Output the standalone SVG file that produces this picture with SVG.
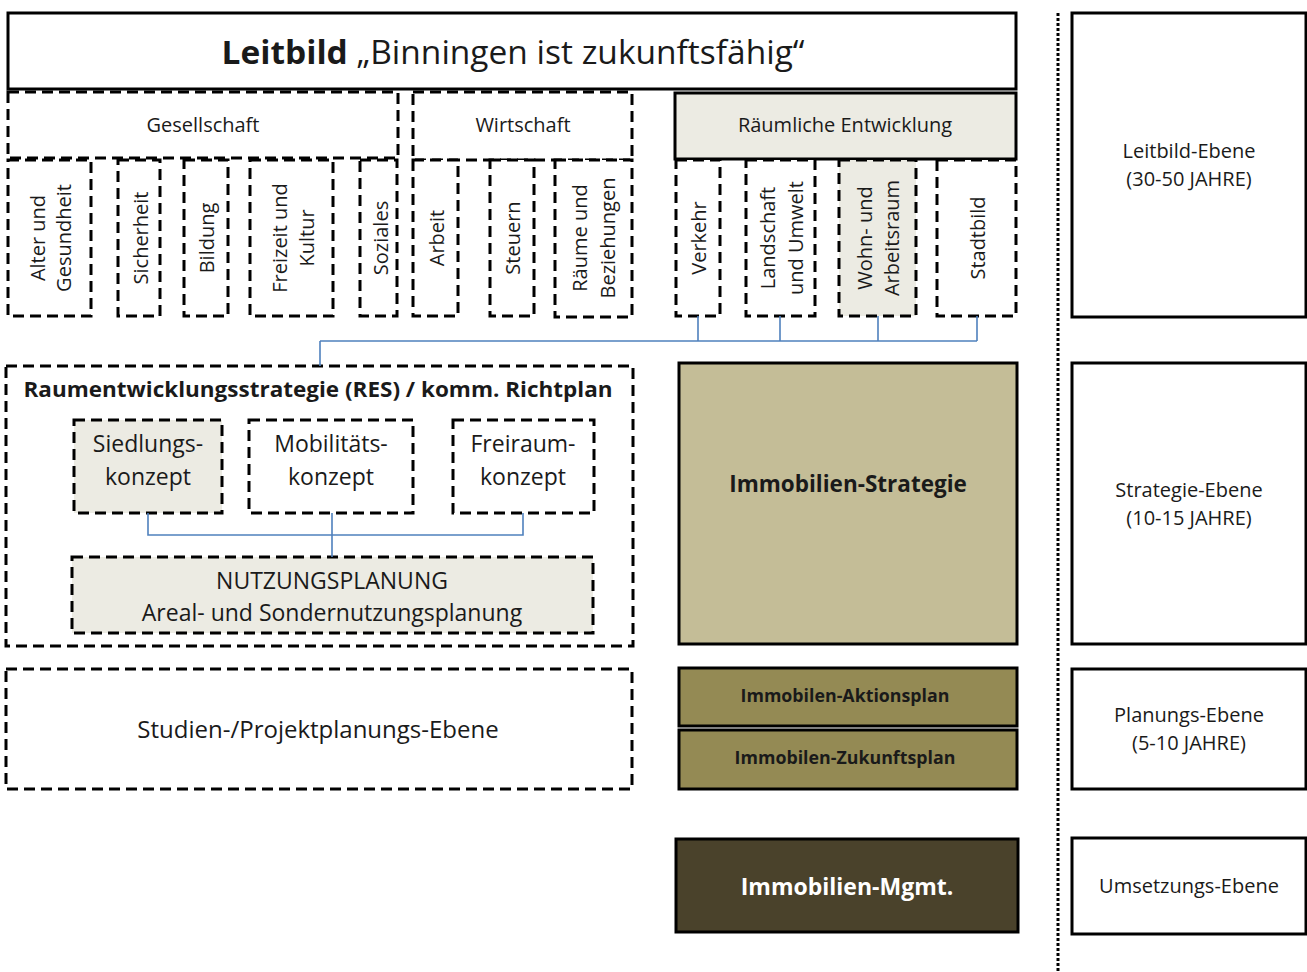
<svg xmlns="http://www.w3.org/2000/svg" width="1307" height="972" viewBox="0 0 1307 972">
<style>
text{font-family:"Open Sans","Liberation Sans",sans-serif;fill:#1a1a1a;text-anchor:middle}
.solid{fill:#fff;stroke:#000;stroke-width:3}
.dash{fill:#fff;stroke:#000;stroke-width:3;stroke-dasharray:11 6}
.light{fill:#ecebe3}
.v{font-size:20px;dominant-baseline:central}
.h19{font-size:20px}
.h22{font-size:23px}
.conn{fill:none;stroke:#4f81bd;stroke-width:1.6}
</style>
<rect width="1307" height="972" fill="#fff"/>

<g id="leitbild">
<rect class="solid" x="8" y="13" width="1008" height="76"/>
<text x="513" y="64" font-size="33" textLength="583" lengthAdjust="spacingAndGlyphs"><tspan font-weight="bold">Leitbild</tspan> „Binningen ist zukunftsfähig“</text>
</g>

<g id="gesellschaft">
<rect class="dash" x="8" y="92" width="390" height="66"/>
<text class="h19" x="203" y="132">Gesellschaft</text>
</g>
<g id="wirtschaft">
<rect class="dash" x="413" y="92" width="219" height="68"/>
<text class="h19" x="523" y="132">Wirtschaft</text>
</g>
<g id="raeumliche">
<rect class="solid light" x="675" y="93" width="341" height="66"/>
<text class="h19" x="845" y="132">Räumliche Entwicklung</text>
</g>

<g id="alter"><rect class="dash" x="8" y="160" width="83" height="156"/>
<g transform="translate(50,238) rotate(-90)"><text class="v" x="0" y="-13">Alter und</text><text class="v" x="0" y="13">Gesundheit</text></g></g>
<g id="sicherheit"><rect class="dash" x="118" y="160" width="42" height="156"/>
<g transform="translate(140,238) rotate(-90)"><text class="v" x="0" y="0">Sicherheit</text></g></g>
<g id="bildung"><rect class="dash" x="184" y="160" width="44" height="156"/>
<g transform="translate(206,238) rotate(-90)"><text class="v" x="0" y="0">Bildung</text></g></g>
<g id="freizeit"><rect class="dash" x="250" y="160" width="83" height="156"/>
<g transform="translate(292,238) rotate(-90)"><text class="v" x="0" y="-13">Freizeit und</text><text class="v" x="0" y="14">Kultur</text></g></g>
<g id="soziales"><rect class="dash" x="360" y="160" width="37" height="156"/>
<g transform="translate(380,238) rotate(-90)"><text class="v" x="0" y="0">Soziales</text></g></g>
<g id="arbeit"><rect class="dash" x="413" y="160" width="45" height="156"/>
<g transform="translate(436,238) rotate(-90)"><text class="v" x="0" y="0">Arbeit</text></g></g>
<g id="steuern"><rect class="dash" x="490" y="160" width="44" height="156"/>
<g transform="translate(512,238) rotate(-90)"><text class="v" x="0" y="0">Steuern</text></g></g>
<g id="raeume"><rect class="dash" x="555" y="160" width="77" height="157"/>
<g transform="translate(593,238) rotate(-90)"><text class="v" x="0" y="-14">Räume und</text><text class="v" x="0" y="14">Beziehungen</text></g></g>
<g id="verkehr"><rect class="dash" x="676" y="160" width="44" height="156"/>
<g transform="translate(698,238) rotate(-90)"><text class="v" x="0" y="0">Verkehr</text></g></g>
<g id="landschaft"><rect class="dash" x="746" y="160" width="69" height="156"/>
<g transform="translate(781,238) rotate(-90)"><text class="v" x="0" y="-14">Landschaft</text><text class="v" x="0" y="14">und Umwelt</text></g></g>
<g id="wohn"><rect class="dash light" x="839" y="160" width="77" height="156"/>
<g transform="translate(877,238) rotate(-90)"><text class="v" x="0" y="-13">Wohn- und</text><text class="v" x="0" y="14">Arbeitsraum</text></g></g>
<g id="stadtbild"><rect class="dash" x="937" y="160" width="79" height="156"/>
<g transform="translate(977,238) rotate(-90)"><text class="v" x="0" y="0">Stadtbild</text></g></g>

<g id="res">
<rect class="dash" x="6" y="366" width="627" height="280"/>
<text x="318" y="397" font-size="21" font-weight="bold" textLength="589" lengthAdjust="spacingAndGlyphs">Raumentwicklungsstrategie (RES) / komm. Richtplan</text>
</g>
<g id="siedlung"><rect class="dash light" x="74" y="420" width="148" height="93"/>
<text class="h22" x="148" y="452">Siedlungs-</text><text class="h22" x="148" y="485">konzept</text></g>
<g id="mobilitaet"><rect class="dash" x="249" y="420" width="164" height="93"/>
<text class="h22" x="331" y="452">Mobilitäts-</text><text class="h22" x="331" y="485">konzept</text></g>
<g id="freiraum"><rect class="dash" x="453" y="420" width="141" height="93"/>
<text class="h22" x="523" y="452">Freiraum-</text><text class="h22" x="523" y="485">konzept</text></g>
<g id="nutzung"><rect class="dash light" x="72" y="557" width="521" height="76"/>
<text class="h22" x="332" y="589">NUTZUNGSPLANUNG</text><text class="h22" x="332" y="621">Areal- und Sondernutzungsplanung</text></g>

<g id="studien"><rect class="dash" x="6" y="669" width="626" height="120"/>
<text x="318" y="738" font-size="24">Studien-/Projektplanungs-Ebene</text></g>

<g id="strategie"><rect class="solid" style="fill:#c4bd97" x="679" y="363" width="338" height="281"/>
<text x="848" y="492" font-size="22.5" font-weight="bold">Immobilien-Strategie</text></g>
<g id="aktionsplan"><rect class="solid" style="fill:#948a54" x="679" y="668" width="338" height="58"/>
<text x="845" y="702" font-size="17.8" font-weight="bold">Immobilen-Aktionsplan</text></g>
<g id="zukunftsplan"><rect class="solid" style="fill:#948a54" x="679" y="730" width="338" height="59"/>
<text x="845" y="764" font-size="17.8" font-weight="bold">Immobilen-Zukunftsplan</text></g>
<g id="mgmt"><rect class="solid" style="fill:#4a422b" x="676" y="839" width="342" height="93"/>
<text x="847" y="895" font-size="23" font-weight="bold" style="fill:#fff">Immobilien-Mgmt.</text></g>

<line x1="1058" y1="13" x2="1058" y2="972" stroke="#000" stroke-width="3" stroke-dasharray="3 2"/>

<g id="ebene-leitbild"><rect class="solid" x="1072" y="13" width="234" height="304"/>
<text class="h19" x="1189" y="158">Leitbild-Ebene</text><text class="h19" x="1189" y="186">(30-50 JAHRE)</text></g>
<g id="ebene-strategie"><rect class="solid" x="1072" y="363" width="234" height="281"/>
<text class="h19" x="1189" y="497">Strategie-Ebene</text><text class="h19" x="1189" y="525">(10-15 JAHRE)</text></g>
<g id="ebene-planung"><rect class="solid" x="1072" y="669" width="234" height="120"/>
<text class="h19" x="1189" y="722">Planungs-Ebene</text><text class="h19" x="1189" y="750">(5-10 JAHRE)</text></g>
<g id="ebene-umsetzung"><rect class="solid" x="1072" y="838" width="234" height="96"/>
<text class="h19" x="1189" y="893">Umsetzungs-Ebene</text></g>

<g id="connectors">
<path class="conn" d="M698 316V341M780 316V341M878 316V341M977 316V341M320 341H977M320 341V366"/>
<path class="conn" d="M148 513V535H523V513M332 513V557"/>
</g>
</svg>
